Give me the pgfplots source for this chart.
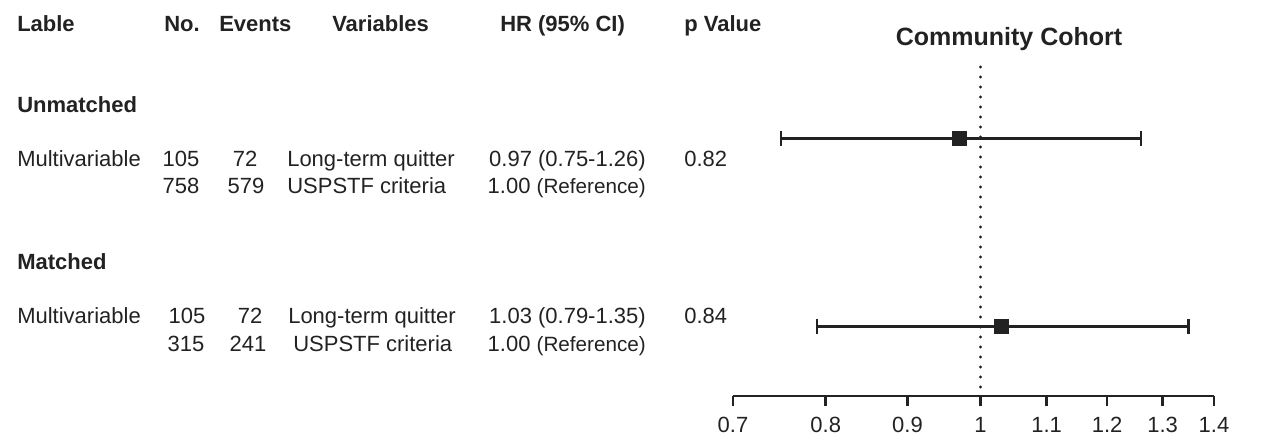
\documentclass[border=0pt]{standalone}
\usepackage{fontspec}
\setmainfont{Liberation Sans}
\usepackage{pgfplots}
\pgfplotsset{compat=1.18}
\definecolor{ink}{HTML}{222222}
\begin{document}
\begin{tikzpicture}
\begin{scope}[x=0.75pt,y=-0.75pt,
  t/.style={inner sep=0pt,anchor=base west,text=ink,font=\fontsize{16.5}{20}\selectfont},
  tc/.style={t,anchor=base},
  te/.style={t,anchor=base east},
  h/.style={t,font=\fontsize{16.5}{20}\selectfont\bfseries}]
\useasboundingbox (0,0) rectangle (1262,440);
% header
\node[h] at (17,31) {Lable};
\node[h] at (164,31) {No.};
\node[h] at (219,31) {Events};
\node[h] at (332,31) {Variables};
\node[h] at (500,31) {HR (95\% CI)};
\node[h] at (684,31) {p Value};
\node[h,anchor=base] at (1009,45) {\fontsize{18.75}{22}\selectfont Community Cohort};
% unmatched
\node[h] at (17,112) {Unmatched};
\node[t] at (17,166) {Multivariable};
\node[tc] at (181,166) {105};
\node[tc] at (245,166) {72};
\node[t] at (287,166) {Long-term quitter};
\node[te] at (646,166) {0.97 (0.75-1.26)};
\node[t] at (684,166) {0.82};
\node[tc] at (181,193) {758};
\node[tc] at (246,193) {579};
\node[t] at (287,193) {USPSTF criteria};
\node[te] at (646,193) {1.00 {\fontsize{15.5}{20}\selectfont(Reference)}};
% matched
\node[h] at (17,269) {Matched};
\node[t] at (17,323) {Multivariable};
\node[tc] at (187,323) {105};
\node[tc] at (250,323) {72};
\node[t] at (288,323) {Long-term quitter};
\node[te] at (646,323) {1.03 (0.79-1.35)};
\node[t] at (684,323) {0.84};
\node[tc] at (186,351) {315};
\node[tc] at (248,351) {241};
\node[t] at (293,351) {USPSTF criteria};
\node[te] at (646,351) {1.00 {\fontsize{15.5}{20}\selectfont(Reference)}};
\end{scope}
\begin{axis}[
  at={(549.75pt,-297pt)}, anchor=south west,
  scale only axis, width=360.75pt, height=246.75pt,
  xmode=log, xmin=0.7, xmax=1.4, ymin=42, ymax=373,
  clip=false,
  axis x line*=bottom, hide y axis,
  axis line style={-, line width=2pt, ink},
  xtick={0.7,0.8,0.9,1,1.1,1.2,1.3,1.4},
  xticklabels={0.7,0.8,0.9,1,1.1,1.2,1.3,1.4},
  minor xtick={},
  tick align=outside, major tick length=7.5pt,
  every tick/.style={line width=2pt, ink},
  /pgf/number format/assume math mode=true,
  xticklabel style={font=\fontsize{16.5}{20}\selectfont, text=ink, anchor=base, inner sep=0pt},
  x tick label style={yshift=-19.5pt},
]
\addplot[ink, line width=2.5pt, line cap=round, dash pattern=on 0pt off 7.5pt] coordinates {(1,373) (1,44)};
\addplot[ink, line width=2pt, mark=|, mark size=5.6pt, mark options={solid, line width=2pt}] coordinates {(0.75,301) (1.26,301)};
\addplot[ink, only marks, mark=square*, mark size=5.25pt] coordinates {(0.97,301)};
\addplot[ink, line width=2pt, mark=|, mark size=5.6pt, mark options={solid, line width=2pt}] coordinates {(0.79,112) (1.35,112)};
\addplot[ink, only marks, mark=square*, mark size=5.25pt] coordinates {(1.03,112)};
\end{axis}
\end{tikzpicture}
\end{document}
